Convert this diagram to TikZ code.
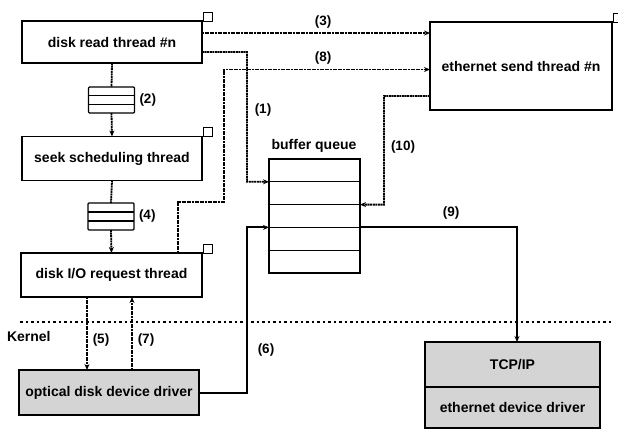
\documentclass[tikz,border=0pt]{standalone}
\usepackage{fontspec}
\setmainfont{Liberation Sans}
\usetikzlibrary{arrows.meta,calc}
\begin{document}
\begin{tikzpicture}[x=1pt,y=-1pt,
  every node/.style={font=\bfseries\fontsize{14}{16}\selectfont, inner sep=0pt, outer sep=0pt},
  box/.style={draw, line width=1.2pt, minimum width=#1},
  tab/.style={draw, line width=1pt, minimum size=9pt, anchor=south west},
  qrow/.style={draw, line width=1.2pt, minimum width=91pt, minimum height=22.8pt},
  qicon/.style={draw, line width=1.4pt, rounded corners=1pt, minimum width=46pt, minimum height=26pt},
  shaded/.style={fill=black!17},
  tip/.style={-{Stealth[length=6pt,width=5pt]}},
  dotline/.style={line width=1.8pt, dash pattern=on 2pt off 0.6pt},
  solidline/.style={line width=2pt},
  lbl/.style={font=\bfseries\fontsize{13.5}{15}\selectfont}
]
\useasboundingbox (0,0) rectangle (618,429);

% thread boxes
\node[box=180pt, minimum height=42pt] (dr) at (112,42) {disk read thread \#n};
\node[box=180pt, minimum height=44pt] (seek) at (112,158.5) {seek scheduling thread};
\node[box=181pt, minimum height=44pt] (dio) at (111.5,275) {disk I/O request thread};
\node[box=182pt, minimum height=88pt] (eth) at (521,66) {ethernet send thread \#n};
\node[tab] (drt) at ([xshift=1pt]dr.north east) {};
\node[tab] (seekt) at ([xshift=1pt]seek.north east) {};
\node[tab] (diot) at ([xshift=1pt]dio.north east) {};
\node[tab] (etht) at ([xshift=1pt]eth.north east) {};

% kernel boxes
\node[box=180pt, minimum height=45pt, shaded] (opt) at (109,392.5) {optical disk device driver};
\node[box=175pt, minimum height=45pt, shaded] (tcp) at (512.5,364.5) {TCP/IP};
\node[box=175pt, minimum height=41pt, shaded] (ethdrv) at (512.5,407.5) {ethernet device driver};

% queue icons
\node[qicon] (q2) at (111.5,100) {};
\draw[line width=1.4pt] ($(q2.west)!0.33!(q2.north west)$) -- ($(q2.east)!0.33!(q2.north east)$)
  ($(q2.west)!0.33!(q2.south west)$) -- ($(q2.east)!0.33!(q2.south east)$);
\node[qicon, minimum height=27pt] (q4) at (111,216.5) {};
\draw[line width=1.4pt] ($(q4.west)!0.33!(q4.north west)$) -- ($(q4.east)!0.33!(q4.north east)$)
  ($(q4.west)!0.33!(q4.south west)$) -- ($(q4.east)!0.33!(q4.south east)$);
\node[lbl, anchor=west] (l2) at ([xshift=5pt]q2.east) {(2)};
\node[lbl, anchor=west] (l4) at ([xshift=5pt]q4.east) {(4)};

% buffer queue
\node[qrow] (bq1) at (314.5,170.4) {};
\node[qrow] (bq2) at (314.5,193.2) {};
\node[qrow] (bq3) at (314.5,216.0) {};
\node[qrow] (bq4) at (314.5,238.8) {};
\node[qrow] (bq5) at (314.5,261.6) {};
\node (bqlabel) at (314,146) {buffer queue};

% kernel line
\coordinate (kl) at (20,322);
\coordinate (kr) at (612,322);
\draw[line width=2pt, dash pattern=on 2.5pt off 3pt] (kl) -- (kr);
\node[anchor=west] (kernel) at (7,336) {Kernel};

% connectors
\draw[dotline] (dr.south) -- (q2.north);
\draw[dotline, tip] (q2.south) -- (seek.north);
\draw[dotline] (seek.south) -- (q4.north);
\draw[dotline, tip] (q4.south) -- (dio.north);

% (3)
\draw[dotline, tip] ([yshift=9pt]dr.east) -- ([yshift=9pt]dr.east -| eth.west);
\node[lbl] (l3) at (323,22) {(3)};

% (8)
\coordinate (k8) at (224,202);
\draw[dotline, tip] ([xshift=66.5pt]dio.north) |- (k8) |- ([yshift=-3.5pt]eth.west);
\node[lbl] (l8) at (323,58) {(8)};

% (1)
\coordinate (k1) at (247,181.8);
\draw[dotline, tip] ([yshift=-10pt]dr.east) -| (k1) -- (bq1.south west);
\node[lbl] (l1) at (263,110) {(1)};

% (10)
\coordinate (k10) at (384,204.6);
\draw[dotline, tip] ([yshift=-30pt]eth.west) -| (k10) -- (bq2.south east);
\node[lbl] (l10) at (403,147) {(10)};

% (6)
\coordinate (k6) at (247,227.4);
\draw[solidline, tip] (opt.east) -| (k6) -- (bq3.south west);
\node[lbl] (l6) at (266,350) {(6)};

% (9)
\draw[solidline, tip] (bq3.south east) -| ([xshift=4.5pt]tcp.north);
\node[lbl] (l9) at (451,213) {(9)};

% (5) and (7)
\draw[dotline, tip] ([xshift=-24.5pt]dio.south) -- ([xshift=-24.5pt]dio.south |- opt.north);
\node[lbl] (l5) at (101,340) {(5)};
\draw[dotline, tip] ([xshift=20.5pt]dio.south |- opt.north) -- ([xshift=20.5pt]dio.south);
\node[lbl] (l7) at (146,340) {(7)};
\end{tikzpicture}
\end{document}
